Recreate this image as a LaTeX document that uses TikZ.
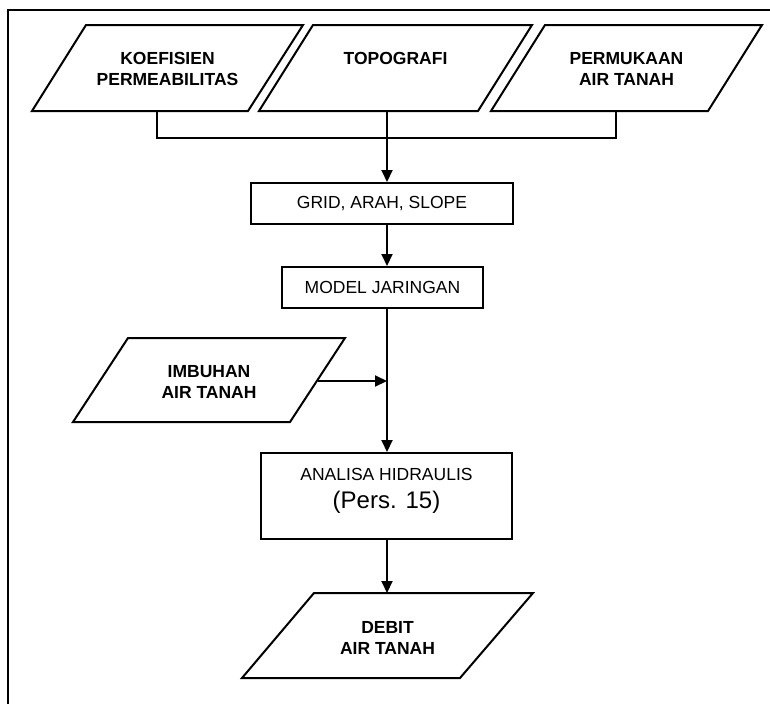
\documentclass[tikz,border=0pt]{standalone}
\usepackage{fontspec}
\setmainfont{Liberation Sans}
\usetikzlibrary{arrows.meta}
\begin{document}
\begin{tikzpicture}[x=1pt,y=-1pt,
  line/.style={line width=2pt},
  flow/.style={line, -{Triangle[length=12pt,width=11pt]}},
  datashape/.style={line, line join=miter},
  datatext/.style={inner sep=0pt, align=center, font=\bfseries\fontsize{17.5}{21}\selectfont},
  procbox/.style={rectangle, draw, line width=2pt, inner sep=0pt,
    font=\fontsize{17.5}{21}\selectfont},
  proctext/.style={inner sep=0pt, anchor=base}]
\useasboundingbox (0,0) rectangle (770,704);

% outer frame (top and left edges)
\draw[line width=1.8pt] (770,10) -| (8,704);

% input data
\draw[datashape] (86,25) -- (303,25) -- (248,111) -- (32,111) -- cycle;
\node[datatext] (koef) at (167.5,69) {KOEFISIEN\\PERMEABILITAS};
\coordinate (koef-b) at (157,111);

\draw[datashape] (313,25) -- (532,25) -- (478,111) -- (259,111) -- cycle;
\node[datatext] (topo) at (395.5,69) {TOPOGRAFI\\\phantom{A}};
\coordinate (topo-b) at (387,111);

\draw[datashape] (545,25) -- (762,25) -- (708,111) -- (491,111) -- cycle;
\node[datatext] (muka) at (626.5,69) {PERMUKAAN\\AIR TANAH};
\coordinate (muka-b) at (616,111);

\draw[datashape] (128,338) -- (345,338) -- (290,422) -- (73,422) -- cycle;
\node[datatext] (imbuhan) at (209,382) {IMBUHAN\\AIR TANAH};
\coordinate (imbuhan-e) at (318,381);

% processing steps
\node[procbox, minimum width=262, minimum height=41]
  (grid) at (382,203.5) {GRID, ARAH, SLOPE};
\node[procbox, minimum width=201, minimum height=41]
  (model) at (382.5,287.5) {MODEL JARINGAN};
\node[procbox, minimum width=251, minimum height=86]
  (analisa) at (386.5,496) {};
\node[proctext, font=\fontsize{17.5}{21}\selectfont]
  (analisa-a) at (386.5,480) {ANALISA HIDRAULIS};
\node[proctext, font=\fontsize{24}{29}\selectfont]
  (analisa-b) at (386.5,508.5) {(Pers. 15)};

% output
\draw[datashape] (314,593) -- (533,593) -- (460,678) -- (242,678) -- cycle;
\node[datatext] (debit) at (387.5,638) {DEBIT\\AIR TANAH};
\coordinate (debit-t) at (387,593);

% connectors
\coordinate (spine) at (387,0);
\coordinate (bus-l) at (157,138);
\coordinate (bus-r) at (616,138);
\draw[line] (koef-b) -- (bus-l) -- (bus-r) -- (muka-b);
\draw[flow] (topo-b) -- (grid.north -| spine);
\draw[flow] (grid.south -| spine) -- (model.north -| spine);
\draw[flow] (model.south -| spine) -- (analisa.north -| spine);
\draw[flow] (imbuhan-e) -- (imbuhan-e -| spine);
\draw[flow] (analisa.south -| spine) -- (debit-t);
\end{tikzpicture}
\end{document}
